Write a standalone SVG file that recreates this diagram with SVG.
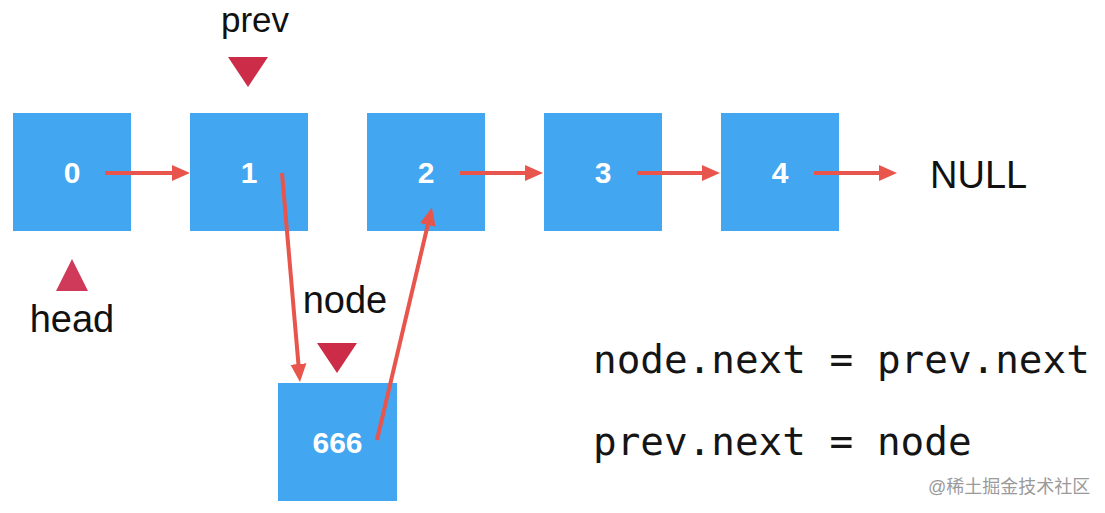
<svg xmlns="http://www.w3.org/2000/svg" width="1105" height="513" viewBox="0 0 1105 513">
  <style>
    .box { fill: #43a6f0; }
    .num { font-family: "Liberation Sans", Arial, sans-serif; font-weight: bold; font-size: 30px; fill: #ffffff; text-anchor: middle; }
    .lbl { font-family: "Liberation Sans", Arial, sans-serif; font-size: 38px; fill: #111111; }
    .code { font-family: "DejaVu Sans Mono", "Liberation Mono", monospace; font-size: 39.3px; fill: #151515; }
    .ptr { fill: #cc2c47; }
    .link { stroke: #e8554c; stroke-width: 4; fill: none; marker-end: url(#ah); }
    .wm { font-family: "Liberation Sans", "Noto Sans CJK SC", sans-serif; font-size: 18px; fill: #9a9a9a; }
  </style>
  <defs>
    <marker id="ah" markerUnits="userSpaceOnUse" markerWidth="19" markerHeight="18" viewBox="0 -9 19 18" refX="1" refY="0" orient="auto">
      <path d="M0,-8 L18,0 L0,8 z" fill="#e8554c"/>
    </marker>
  </defs>
  <rect width="1105" height="513" fill="#ffffff"/>

  <g id="node-0">
    <rect class="box" x="13" y="113" width="118" height="118"/>
    <text class="num" x="72" y="183">0</text>
  </g>
  <g id="node-1">
    <rect class="box" x="190" y="113" width="118" height="118"/>
    <text class="num" x="249" y="183">1</text>
  </g>
  <g id="node-2">
    <rect class="box" x="367" y="113" width="118" height="118"/>
    <text class="num" x="426" y="183">2</text>
  </g>
  <g id="node-3">
    <rect class="box" x="544" y="113" width="118" height="118"/>
    <text class="num" x="603" y="183">3</text>
  </g>
  <g id="node-4">
    <rect class="box" x="721" y="113" width="118" height="118"/>
    <text class="num" x="780" y="183">4</text>
  </g>
  <g id="node-666">
    <rect class="box" x="278" y="383" width="119" height="118"/>
    <text class="num" x="337.5" y="453">666</text>
  </g>
  <g id="null">
    <text class="lbl" x="930" y="188">NULL</text>
  </g>

  <g id="pointer-prev">
    <text class="lbl" x="255" y="32" text-anchor="middle" style="font-size:35px">prev</text>
    <polygon class="ptr" points="228,57 268,57 248,87"/>
  </g>
  <g id="pointer-head">
    <polygon class="ptr" points="56,291 88,291 72,259" style="fill:#d03a5a"/>
    <text class="lbl" x="72" y="332" text-anchor="middle">head</text>
  </g>
  <g id="pointer-node">
    <text class="lbl" x="345" y="313" text-anchor="middle">node</text>
    <polygon class="ptr" points="317,343 357,343 337,373"/>
  </g>

  <g id="connectors">
    <line class="link" x1="105" y1="173" x2="173" y2="173"/>
    <line class="link" x1="460" y1="173" x2="526" y2="173"/>
    <line class="link" x1="637" y1="173" x2="703" y2="173"/>
    <line class="link" x1="814" y1="173" x2="880" y2="173"/>
    <line class="link" x1="282" y1="173" x2="298.5" y2="365"/>
    <line class="link" x1="377" y1="440" x2="428" y2="224"/>
  </g>

  <g id="code">
    <text class="code" x="593" y="373">node.next = prev.next</text>
    <text class="code" x="593" y="455">prev.next = node</text>
  </g>

  <text class="wm" x="928" y="493">@稀土掘金技术社区</text>
</svg>
